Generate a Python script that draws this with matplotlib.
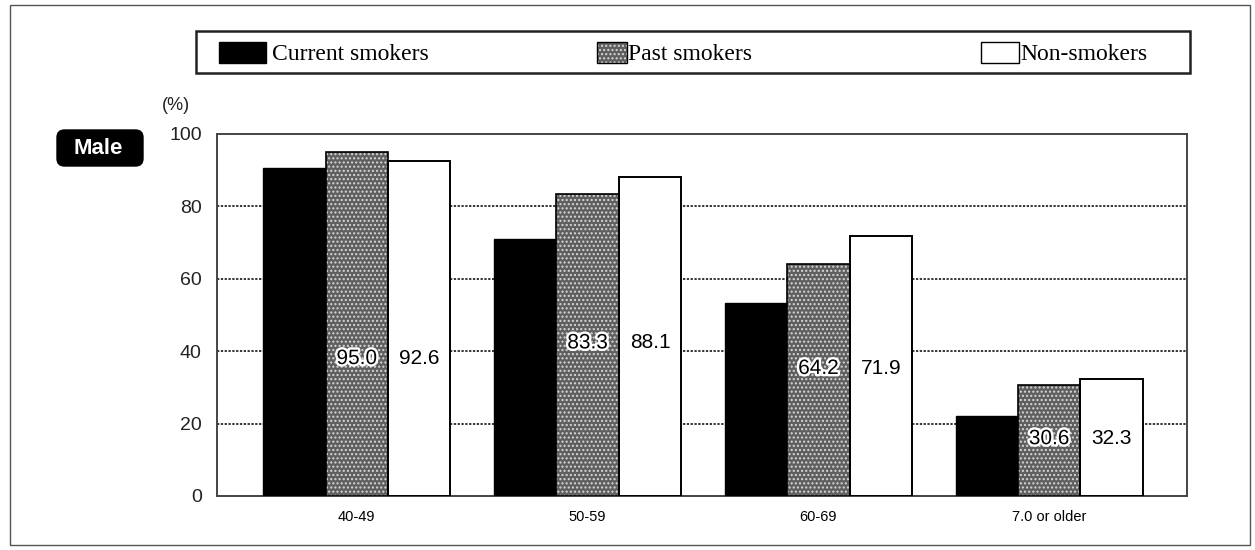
import matplotlib
matplotlib.use("Agg")
import matplotlib.pyplot as plt
from matplotlib.patches import Rectangle, FancyBboxPatch
import matplotlib.patheffects as pe
import numpy as np

# Data
age_groups = ["40-49", "50-59", "60-69", "7.0 or older"]
series_names = ["Current smokers", "Past smokers", "Non-smokers"]
current_smokers = [90.6, 71.1, 53.4, 22.0]
past_smokers = [95.0, 83.3, 64.2, 30.6]
non_smokers = [92.6, 88.1, 71.9, 32.3]
y_ticks = [0, 20, 40, 60, 80, 100]

# Height (as fraction of the non-smoker bar) where the value labels sit
label_frac = [0.41, 0.48, 0.49, 0.49]

W, H = 1255.0, 550.0


def fx(px):
    return px / W


def fy(py):
    return 1 - py / H


fig = plt.figure(figsize=(12.55, 5.5), dpi=100)
ax = fig.add_axes([fx(217), fy(496), fx(1187) - fx(217), fy(134) - fy(496)])

x = np.arange(len(age_groups))
w = 0.27

PAST_FACE = "#5f5f5f"
PAST_DOTS = "#d8d8d8"

# Current smokers: solid black
ax.bar(x - w, current_smokers, w, color="black", edgecolor="black",
       linewidth=1.0, zorder=3)

# Past smokers: grey speckled fill, drawn as a hatched layer plus outline
plt.rcParams["hatch.linewidth"] = 1.0
ax.bar(x, past_smokers, w, color=PAST_FACE, edgecolor=PAST_DOTS,
       linewidth=0, hatch="....", zorder=3)
ax.bar(x, past_smokers, w, facecolor="none", edgecolor="black",
       linewidth=1.2, zorder=4)

# Non-smokers: white with black outline
ax.bar(x + w, non_smokers, w, color="white", edgecolor="black",
       linewidth=1.4, zorder=3)

# Value labels
for i in range(len(age_groups)):
    ly = non_smokers[i] * label_frac[i]
    ax.text(x[i], ly, f"{past_smokers[i]:.1f}", ha="center", va="center",
            fontsize=15, family="Liberation Sans", zorder=6,
            path_effects=[pe.withStroke(linewidth=3.5, foreground="white")])
    ax.text(x[i] + w, ly, f"{non_smokers[i]:.1f}", ha="center", va="center",
            fontsize=15, family="Liberation Sans", zorder=6)

# Dotted gridlines
for g in y_ticks[1:-1]:
    ax.axhline(g, color="black", linestyle=(0, (1.5, 1.0)), linewidth=1.1,
               zorder=1)

ax.set_xlim(-0.606, 3.597)
ax.set_ylim(0, 100)
ax.set_yticks(y_ticks)
ax.set_yticklabels([str(t) for t in y_ticks], fontsize=14,
                   family="Liberation Sans", color="#222222")
ax.set_xticks(x)
ax.set_xticklabels(age_groups, fontsize=10.5, family="Liberation Sans")
ax.tick_params(axis="both", length=0)
ax.tick_params(axis="y", pad=11)
ax.tick_params(axis="x", pad=10)
for side, sp in ax.spines.items():
    sp.set_color("#444444")
    sp.set_linewidth(1.4)

# Unit label
fig.text(fx(162), fy(106), "(%)", fontsize=13, family="Liberation Sans",
         ha="left", va="center", color="#222222")

# "Male" tag
fig.add_artist(FancyBboxPatch((fx(57), fy(166)), fx(143) - fx(57),
                              fy(130) - fy(166),
                              boxstyle="round,pad=0,rounding_size=0.006",
                              transform=fig.transFigure, facecolor="black",
                              edgecolor="black", mutation_aspect=W / H))
fig.text(fx(98), fy(148), "Male", fontsize=16, fontweight="bold",
         family="Liberation Sans", color="white", ha="center", va="center")

# Legend box drawn in figure coordinates
fig.add_artist(Rectangle((fx(196), fy(73)), fx(1190) - fx(196),
                         fy(31) - fy(73), transform=fig.transFigure,
                         facecolor="white", edgecolor="#222222", linewidth=1.8))

# legend swatches
SW_TOP, SW_BOT = 42, 63
fig.add_artist(Rectangle((fx(219), fy(SW_BOT)), fx(266) - fx(219),
                         fy(SW_TOP) - fy(SW_BOT), transform=fig.transFigure,
                         facecolor="black", edgecolor="black", linewidth=1.0))
fig.add_artist(Rectangle((fx(597), fy(SW_BOT)), fx(627) - fx(597),
                         fy(SW_TOP) - fy(SW_BOT), transform=fig.transFigure,
                         facecolor=PAST_FACE, edgecolor=PAST_DOTS,
                         hatch="....", linewidth=0))
fig.add_artist(Rectangle((fx(597), fy(SW_BOT)), fx(627) - fx(597),
                         fy(SW_TOP) - fy(SW_BOT), transform=fig.transFigure,
                         facecolor="none", edgecolor="black", linewidth=1.0))
fig.add_artist(Rectangle((fx(981), fy(SW_BOT)), fx(1019) - fx(981),
                         fy(SW_TOP) - fy(SW_BOT), transform=fig.transFigure,
                         facecolor="white", edgecolor="black", linewidth=1.0))

for px, name in zip([272, 628, 1020], series_names):
    fig.text(fx(px), fy(54), name, fontsize=17, family="Liberation Serif",
             ha="left", va="center")

# Outer frame
fig.add_artist(Rectangle((fx(10), fy(545)), fx(1250) - fx(10),
                         fy(5) - fy(545), transform=fig.transFigure,
                         facecolor="none", edgecolor="#555555", linewidth=1.0))

fig.savefig("out.png", dpi=100)
